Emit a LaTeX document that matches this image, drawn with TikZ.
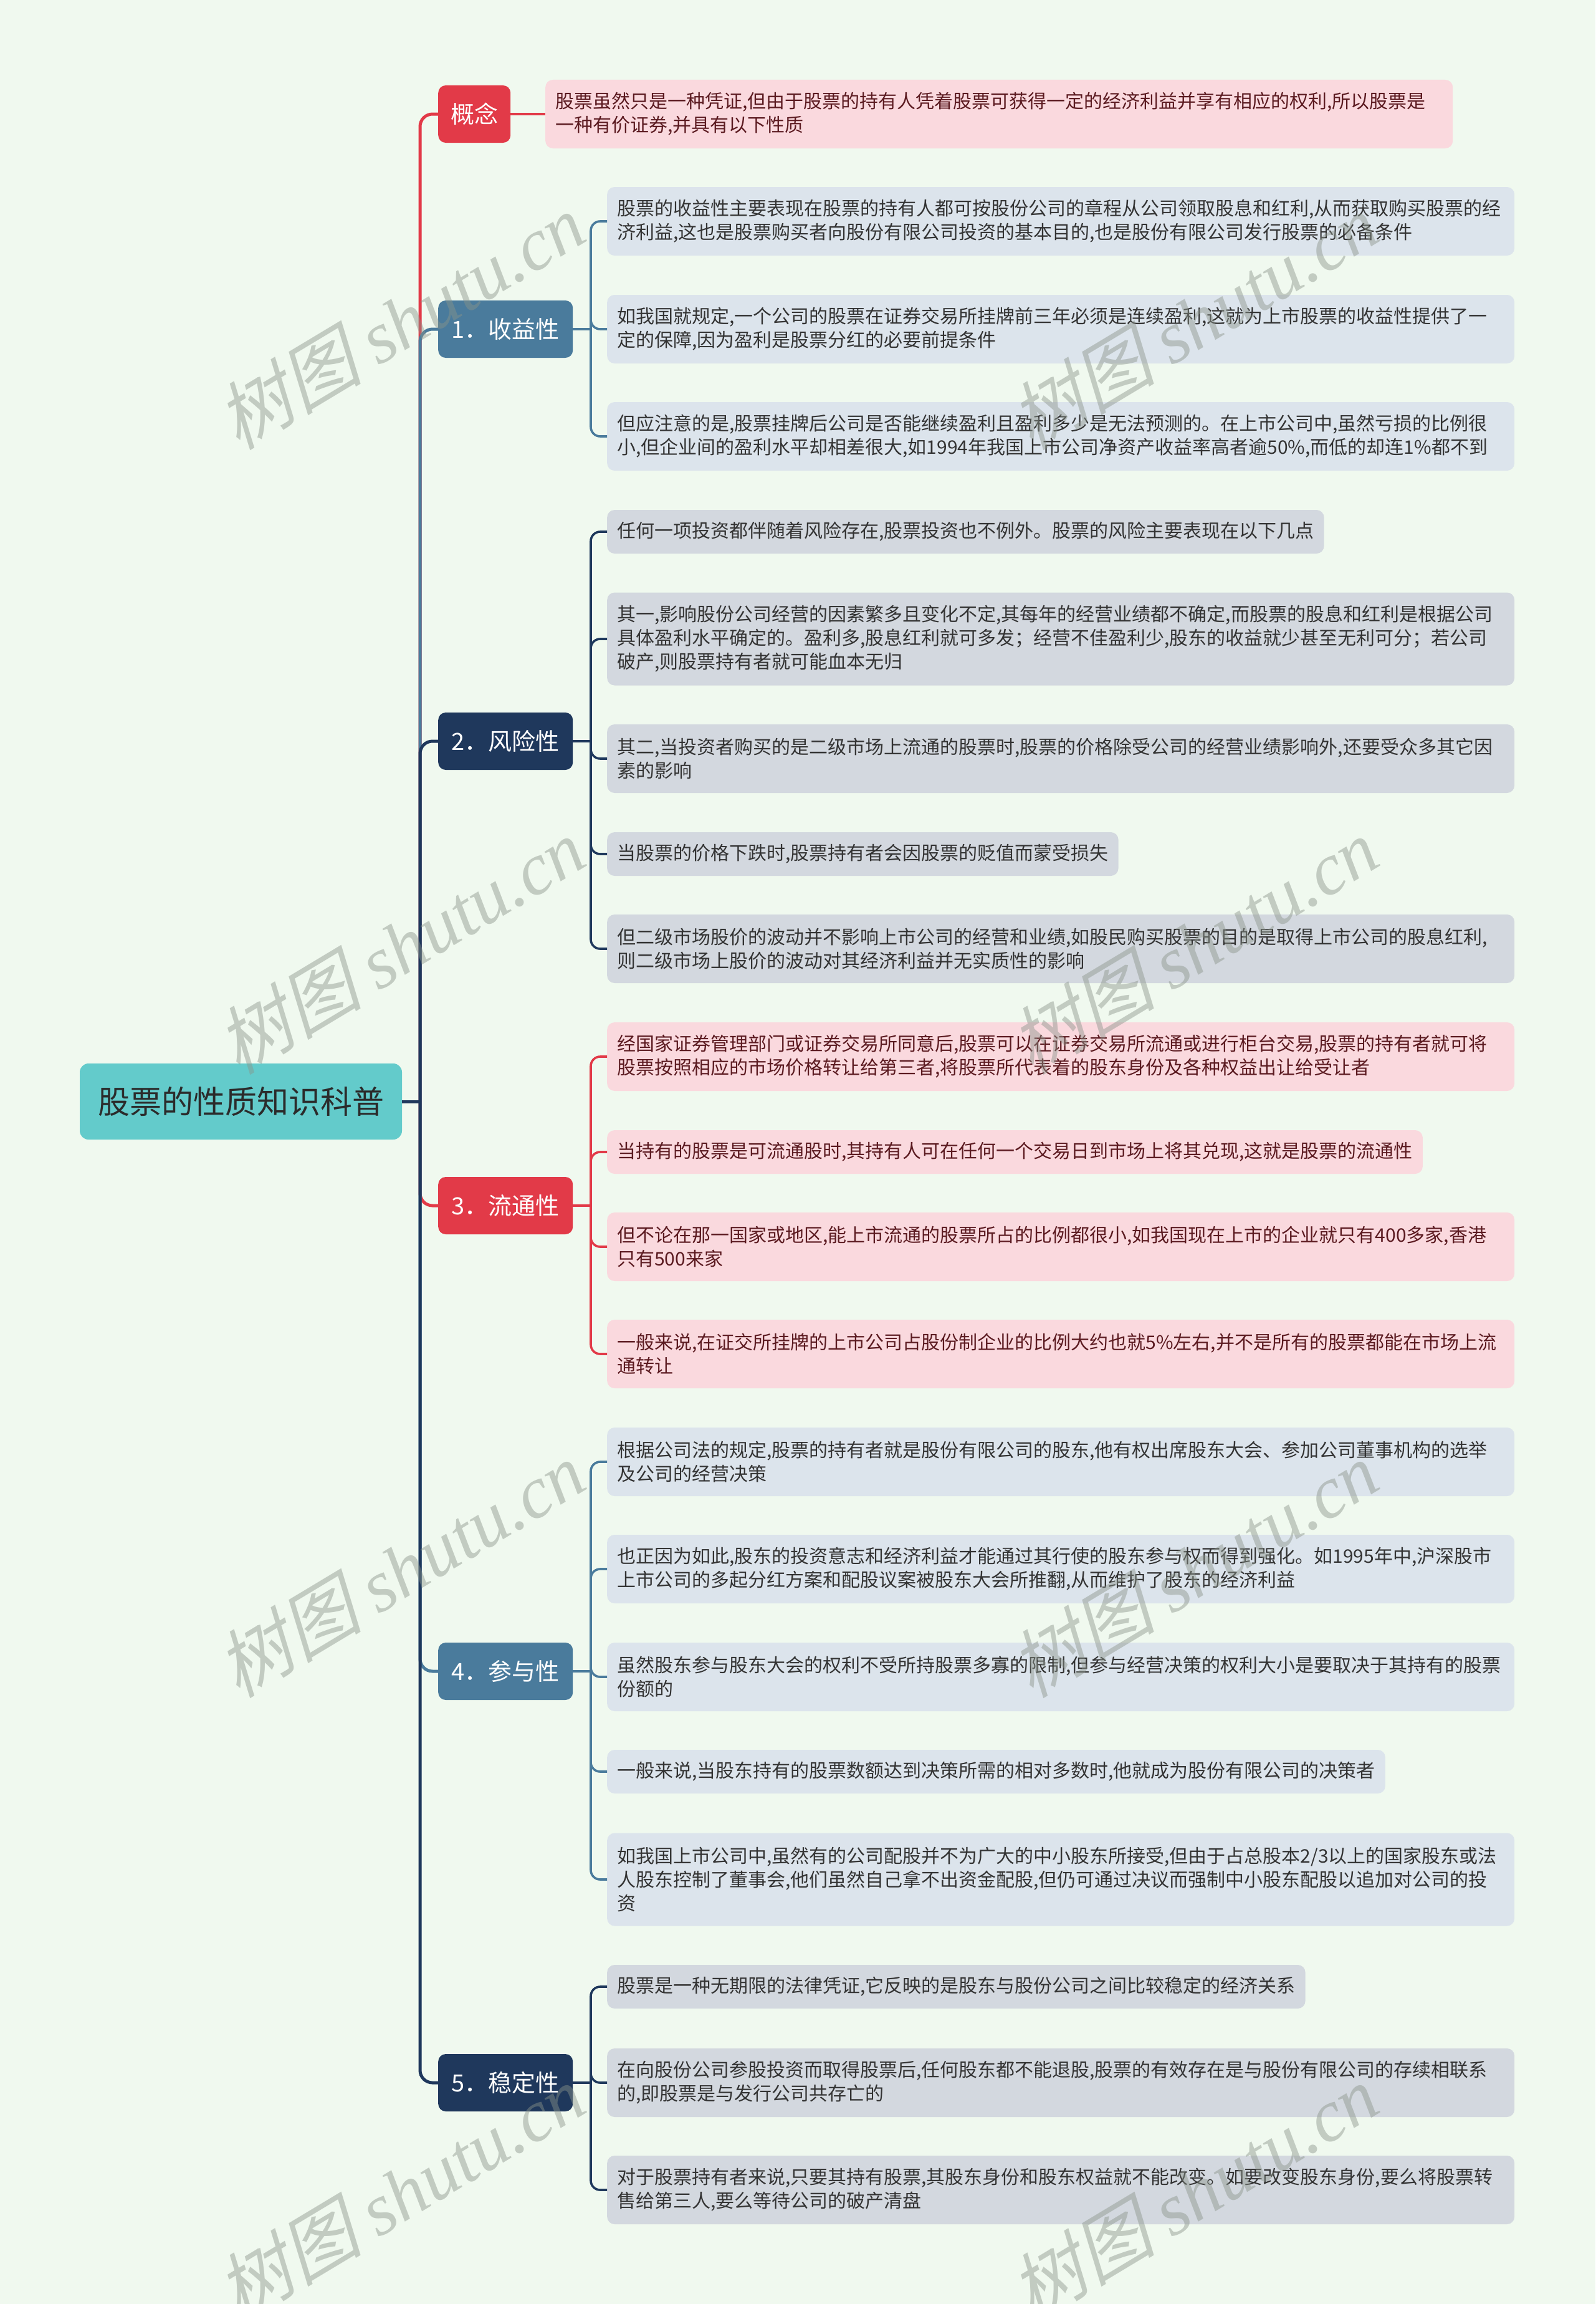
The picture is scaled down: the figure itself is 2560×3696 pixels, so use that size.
\documentclass[tikz,border=0pt]{standalone}
\usepackage{fontspec}
\newfontfamily\cjk{Noto Sans CJK SC}
\newfontfamily\wmlat{Liberation Serif}
\newfontfamily\wmcjk[FakeSlant=0.25]{Noto Sans CJK SC}
\definecolor{bgc}{HTML}{F0F9EF}
\definecolor{rootc}{HTML}{63CBCB}
\definecolor{roottext}{HTML}{2B2B2B}
\definecolor{redc}{HTML}{E23A48}
\definecolor{bluec}{HTML}{4A7B9C}
\definecolor{navyc}{HTML}{1F385C}
\definecolor{pinkleaf}{HTML}{FAD9DE}
\definecolor{blueleaf}{HTML}{DCE4EC}
\definecolor{grayleaf}{HTML}{D3D8DF}
\definecolor{pinktext}{HTML}{5B1A20}
\definecolor{leaftext}{HTML}{333333}
\definecolor{wmc}{HTML}{8A948A}
\tikzset{
  rootbox/.style={fill=rootc, rounded corners=14pt, minimum width=517pt, minimum height=122pt,
    text=roottext, font=\cjk\fontsize{51}{60}\selectfont, inner sep=0pt},
  brbox/.style={anchor=west, minimum height=92pt, rounded corners=12pt, text=white,
    font=\cjk\fontsize{38}{44}\selectfont, inner sep=0pt},
  leafm/.style={anchor=west, text width=1424pt, inner xsep=16pt, inner ysep=0pt, align=left,
    rounded corners=12pt, font=\cjk\fontsize{30}{38}\selectfont},
  leafs/.style={anchor=west, inner xsep=16pt, inner ysep=0pt, minimum height=70pt,
    rounded corners=12pt, font=\cjk\fontsize{30}{38}\selectfont},
  pk/.style={fill=pinkleaf, text=pinktext},
  bl/.style={fill=blueleaf, text=leaftext},
  gr/.style={fill=grayleaf, text=leaftext},
  two/.style={minimum height=110pt},
  three/.style={minimum height=149pt},
  conn/.style={line width=5pt, rounded corners=20pt},
  lconn/.style={line width=3.6pt, rounded corners=15pt},
  wm/.style={rotate=31, text=wmc, opacity=0.45, inner sep=0pt}
}
\begin{document}
\begin{tikzpicture}[x=1pt,y=-1pt]
\fill[bgc] (0,0) rectangle (2560,3696);
\useasboundingbox (0,0) rectangle (2560,3696);

% root and branches
\node[rootbox] (root) at (386.5,1767) {股票的性质知识科普};
\node[brbox, fill=redc, minimum width=116pt] (b0) at (703,183) {概念};
\node[brbox, fill=bluec, minimum width=216pt] (b1) at (703,528) {1．收益性};
\node[brbox, fill=navyc, minimum width=216pt] (b2) at (703,1189) {2．风险性};
\node[brbox, fill=redc, minimum width=216pt] (b3) at (703,1934) {3．流通性};
\node[brbox, fill=bluec, minimum width=216pt] (b4) at (703,2681) {4．参与性};
\node[brbox, fill=navyc, minimum width=216pt] (b5) at (703,3341) {5．稳定性};

% leaves: concept
\node[leafm, pk, two] (k1) at (875,183) {股票虽然只是一种凭证,但由于股票的持有人凭着股票可获得一定的经济利益并享有相应的权利,所以股票是\\一种有价证券,并具有以下性质};

% 收益性
\node[leafm, bl, two] (y1) at (974,355) {股票的收益性主要表现在股票的持有人都可按股份公司的章程从公司领取股息和红利,从而获取购买股票的经\\济利益,这也是股票购买者向股份有限公司投资的基本目的,也是股份有限公司发行股票的必备条件};
\node[leafm, bl, two] (y2) at (974,528) {如我国就规定,一个公司的股票在证券交易所挂牌前三年必须是连续盈利,这就为上市股票的收益性提供了一\\定的保障,因为盈利是股票分红的必要前提条件};
\node[leafm, bl, two] (y3) at (974,700) {但应注意的是,股票挂牌后公司是否能继续盈利且盈利多少是无法预测的。在上市公司中,虽然亏损的比例很\\小,但企业间的盈利水平却相差很大,如1994年我国上市公司净资产收益率高者逾50\%,而低的却连1\%都不到};

% 风险性
\node[leafs, gr] (r1) at (974,853) {任何一项投资都伴随着风险存在,股票投资也不例外。股票的风险主要表现在以下几点};
\node[leafm, gr, three] (r2) at (974,1025) {其一,影响股份公司经营的因素繁多且变化不定,其每年的经营业绩都不确定,而股票的股息和红利是根据公司\\具体盈利水平确定的。盈利多,股息红利就可多发；经营不佳盈利少,股东的收益就少甚至无利可分；若公司\\破产,则股票持有者就可能血本无归};
\node[leafm, gr, two] (r3) at (974,1217) {其二,当投资者购买的是二级市场上流通的股票时,股票的价格除受公司的经营业绩影响外,还要受众多其它因\\素的影响};
\node[leafs, gr] (r4) at (974,1370) {当股票的价格下跌时,股票持有者会因股票的贬值而蒙受损失};
\node[leafm, gr, two] (r5) at (974,1522) {但二级市场股价的波动并不影响上市公司的经营和业绩,如股民购买股票的目的是取得上市公司的股息红利,\\则二级市场上股价的波动对其经济利益并无实质性的影响};

% 流通性
\node[leafm, pk, two] (c1) at (974,1695) {经国家证券管理部门或证券交易所同意后,股票可以在证券交易所流通或进行柜台交易,股票的持有者就可将\\股票按照相应的市场价格转让给第三者,将股票所代表着的股东身份及各种权益出让给受让者};
\node[leafs, pk] (c2) at (974,1848) {当持有的股票是可流通股时,其持有人可在任何一个交易日到市场上将其兑现,这就是股票的流通性};
\node[leafm, pk, two] (c3) at (974,2000) {但不论在那一国家或地区,能上市流通的股票所占的比例都很小,如我国现在上市的企业就只有400多家,香港\\只有500来家};
\node[leafm, pk, two] (c4) at (974,2172) {一般来说,在证交所挂牌的上市公司占股份制企业的比例大约也就5\%左右,并不是所有的股票都能在市场上流\\通转让};

% 参与性
\node[leafm, bl, two] (p1) at (974,2345) {根据公司法的规定,股票的持有者就是股份有限公司的股东,他有权出席股东大会、参加公司董事机构的选举\\及公司的经营决策};
\node[leafm, bl, two] (p2) at (974,2517) {也正因为如此,股东的投资意志和经济利益才能通过其行使的股东参与权而得到强化。如1995年中,沪深股市\\上市公司的多起分红方案和配股议案被股东大会所推翻,从而维护了股东的经济利益};
\node[leafm, bl, two] (p3) at (974,2690) {虽然股东参与股东大会的权利不受所持股票多寡的限制,但参与经营决策的权利大小是要取决于其持有的股票\\份额的};
\node[leafs, bl] (p4) at (974,2842) {一般来说,当股东持有的股票数额达到决策所需的相对多数时,他就成为股份有限公司的决策者};
\node[leafm, bl, three] (p5) at (974,3015) {如我国上市公司中,虽然有的公司配股并不为广大的中小股东所接受,但由于占总股本2/3以上的国家股东或法\\人股东控制了董事会,他们虽然自己拿不出资金配股,但仍可通过决议而强制中小股东配股以追加对公司的投\\资};

% 稳定性
\node[leafs, gr] (s1) at (974,3187) {股票是一种无期限的法律凭证,它反映的是股东与股份公司之间比较稳定的经济关系};
\node[leafm, gr, two] (s2) at (974,3341) {在向股份公司参股投资而取得股票后,任何股东都不能退股,股票的有效存在是与股份有限公司的存续相联系\\的,即股票是与发行公司共存亡的};
\node[leafm, gr, two] (s3) at (974,3513) {对于股票持有者来说,只要其持有股票,其股东身份和股东权益就不能改变。如要改变股东身份,要么将股票转\\售给第三人,要么等待公司的破产清盘};

% main connectors
\coordinate (tr) at (674,1767);
\draw[conn, redc] (tr) |- (b0.west);
\draw[conn, bluec] (tr) |- (b1.west);
\draw[conn, navyc] (tr) |- (b2.west);
\draw[conn, redc] (tr) |- (b3.west);
\draw[conn, bluec] (tr) |- (b4.west);
\draw[conn, navyc] (tr) |- (b5.west);
\draw[conn, navyc, rounded corners=0pt] (root.east) -- (tr);

% concept leaf
\draw[lconn, redc] (b0.east) -- (k1.west);

% 收益性 connectors
\coordinate (j1) at (948,528);
\draw[lconn, bluec] (b1.east) -- (j1);
\foreach \n in {y1,y2,y3} \draw[lconn, bluec] (j1) |- (\n.west);

% 风险性
\coordinate (j2) at (948,1189);
\draw[lconn, navyc] (b2.east) -- (j2);
\foreach \n in {r1,r2,r3,r4,r5} \draw[lconn, navyc] (j2) |- (\n.west);

% 流通性
\coordinate (j3) at (948,1934);
\draw[lconn, redc] (b3.east) -- (j3);
\foreach \n in {c1,c2,c3,c4} \draw[lconn, redc] (j3) |- (\n.west);

% 参与性
\coordinate (j4) at (948,2681);
\draw[lconn, bluec] (b4.east) -- (j4);
\foreach \n in {p1,p2,p3,p4,p5} \draw[lconn, bluec] (j4) |- (\n.west);

% 稳定性
\coordinate (j5) at (948,3341);
\draw[lconn, navyc] (b5.east) -- (j5);
\foreach \n in {s1,s2,s3} \draw[lconn, navyc] (j5) |- (\n.west);

% watermarks
\foreach \wx in {642,1915} {
  \foreach \wy in {515,1517,2517,3517} {
    \node[wm] at (\wx,\wy) {\fontsize{118}{120}\selectfont\wmcjk 树图 \wmlat\itshape shutu.cn};
  }
}
\end{tikzpicture}
\end{document}
